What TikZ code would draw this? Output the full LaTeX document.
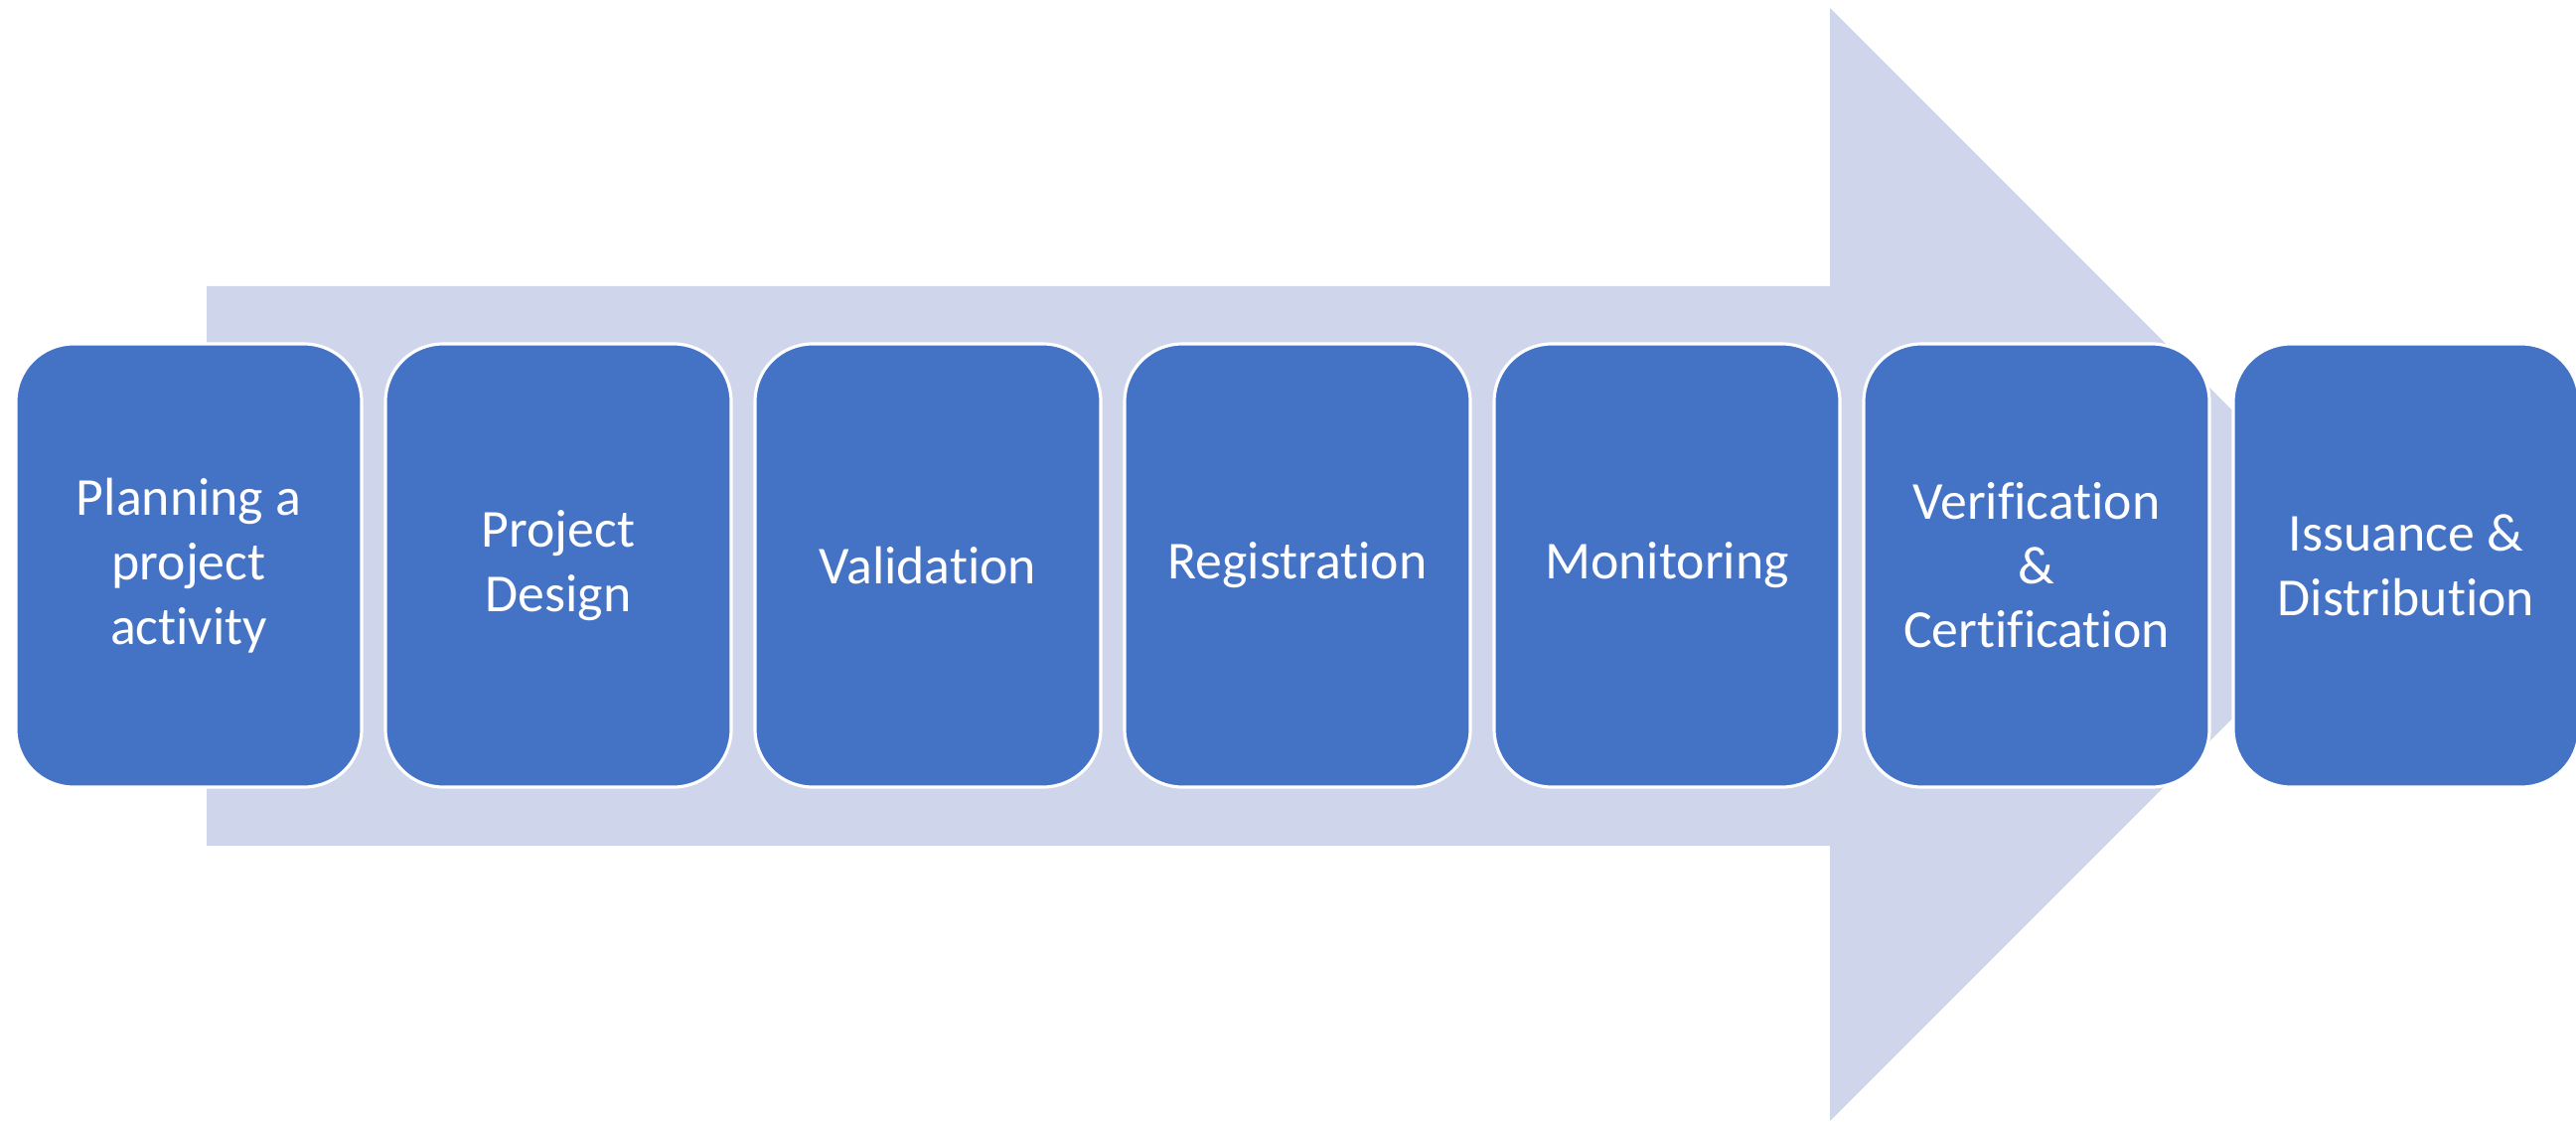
\documentclass[tikz,border=0pt]{standalone}
\usepackage{fontspec}
\setmainfont[RawFeature={-liga;-calt;-clig;-dlig}]{Carlito}
\usepackage{tikz}
\usetikzlibrary{positioning}
\definecolor{stepblue}{RGB}{68,114,196}
\definecolor{arrowlilac}{RGB}{207,213,234}

\tikzset{
    stage/.style={draw=white, line width=0.9pt, fill=stepblue, rounded corners=0.58cm,
        minimum width=3.48cm, minimum height=4.46cm, outer sep=0pt, inner sep=0pt,
        align=center, text=white, font=\fontsize{15.3}{18.4}\selectfont}
}

\begin{document}
\begin{tikzpicture}
    \useasboundingbox (0,0) rectangle (25.93,11.28);

    % Big arrow behind the stages
    \fill[arrowlilac] (2.08,2.77) -- (2.08,8.40) -- (18.42,8.40) -- (18.42,11.20)
        -- (24.02,5.60) -- (18.42,0) -- (18.42,2.77) -- cycle;

    % Stages
    \node[stage] (plan) at (1.90,5.59) {Planning a\\project\\activity};
    \node[stage, right=0.24cm of plan] (design) {Project\\Design};
    \node[stage, right=0.24cm of design] (valid) {Validation};
    \node[stage, right=0.24cm of valid] (regist) {Registration};
    \node[stage, right=0.24cm of regist] (monit) {Monitoring};
    \node[stage, right=0.24cm of monit] (verif) {Verification\\\&\\Certification};
    \node[stage, right=0.24cm of verif] (issue) {Issuance \&\\Distribution};
\end{tikzpicture}
\end{document}
